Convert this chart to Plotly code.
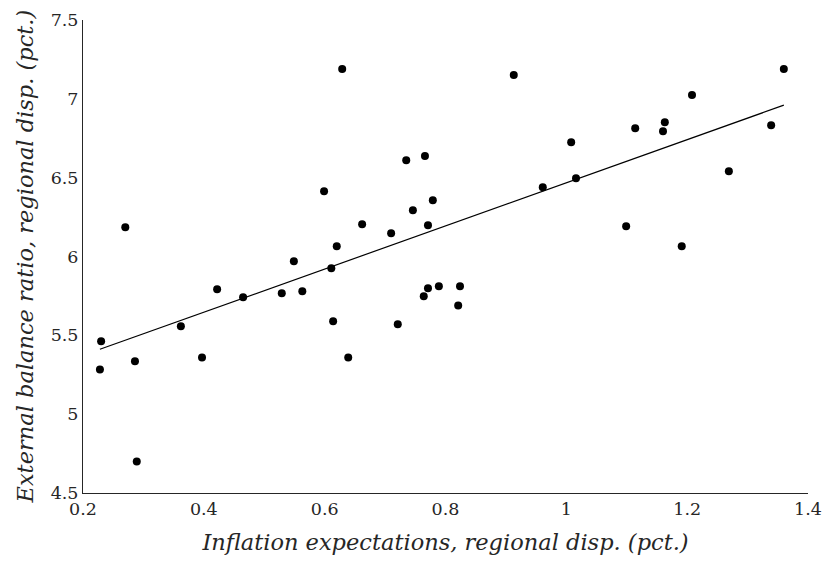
import numpy as np
import plotly.graph_objects as go

infl_disp = [0.230, 0.228, 0.286, 0.289, 0.270, 0.362, 0.397, 0.422, 0.465, 0.529,
             0.563, 0.549, 0.611, 0.620, 0.599, 0.629, 0.662, 0.710, 0.735, 0.766,
             0.746, 0.779, 0.771, 0.771, 0.764, 0.789, 0.824, 0.821, 0.721, 0.614,
             0.639, 0.913, 0.961, 1.008, 1.016, 1.114, 1.163, 1.160, 1.208, 1.360,
             1.339, 1.269, 1.099, 1.191]
ext_disp = [5.462, 5.284, 5.335, 4.700, 6.186, 5.557, 5.360, 5.792, 5.741, 5.767,
            5.779, 5.970, 5.925, 6.065, 6.414, 7.189, 6.205, 6.148, 6.611, 6.637,
            6.294, 6.357, 6.198, 5.798, 5.748, 5.811, 5.811, 5.690, 5.570, 5.589,
            5.360, 7.151, 6.440, 6.725, 6.497, 6.814, 6.852, 6.795, 7.024, 7.189,
            6.833, 6.541, 6.192, 6.065]

x_ticks = [0.2, 0.4, 0.6, 0.8, 1.0, 1.2, 1.4]
x_ticklabels = ["0.2", "0.4", "0.6", "0.8", "1", "1.2", "1.4"]
y_ticks = [4.5, 5.0, 5.5, 6.0, 6.5, 7.0, 7.5]
y_ticklabels = ["4.5", "5", "5.5", "6", "6.5", "7", "7.5"]
x_title = "Inflation expectations, regional disp. (pct.)"
y_title = "External balance ratio, regional disp. (pct.)"

xa = np.array(infl_disp)
ya = np.array(ext_disp)
b, a = np.polyfit(xa, ya, 1)
fit_x = [xa.min(), xa.max()]
fit_y = [a + b * v for v in fit_x]

fig = go.Figure()
fig.add_trace(go.Scatter(x=infl_disp, y=ext_disp, mode="markers",
                         marker=dict(color="black", size=8, line=dict(width=0)),
                         showlegend=False, cliponaxis=False))
fig.add_trace(go.Scatter(x=fit_x, y=fit_y, mode="lines",
                         line=dict(color="black", width=1.2), showlegend=False))

font_family = "DejaVu Serif"
fig.update_layout(
    width=825, height=562,
    margin=dict(l=83, r=17, t=20, b=69),
    paper_bgcolor="white", plot_bgcolor="white",
    font=dict(family=font_family, color="#262626", size=18),
    xaxis=dict(range=[0.2, 1.4], tickvals=x_ticks, ticktext=x_ticklabels,
               showgrid=False, zeroline=False, showline=True, linecolor="#262626",
               linewidth=1, ticks="", automargin=False,
               tickfont=dict(size=17.5, family=font_family),
               title=dict(text="<i>" + x_title + "</i>",
                          font=dict(size=22.5, family=font_family), standoff=16)),
    yaxis=dict(range=[4.5, 7.5], tickvals=y_ticks, ticktext=y_ticklabels,
               showgrid=False, zeroline=False, showline=True, linecolor="#262626",
               linewidth=1, ticks="", automargin=False,
               tickfont=dict(size=17.5, family=font_family)),
    annotations=[dict(text="<i>" + y_title + "</i>", xref="paper", yref="paper",
                      x=0, y=0.5, xanchor="center", yanchor="middle",
                      xshift=-59, textangle=-90, showarrow=False,
                      font=dict(size=22.5, family=font_family, color="#262626"))],
)
fig.write_html("out.html", config={"displayModeBar": False},
               post_script="document.body.style.margin='0';document.body.style.overflow='hidden';")
